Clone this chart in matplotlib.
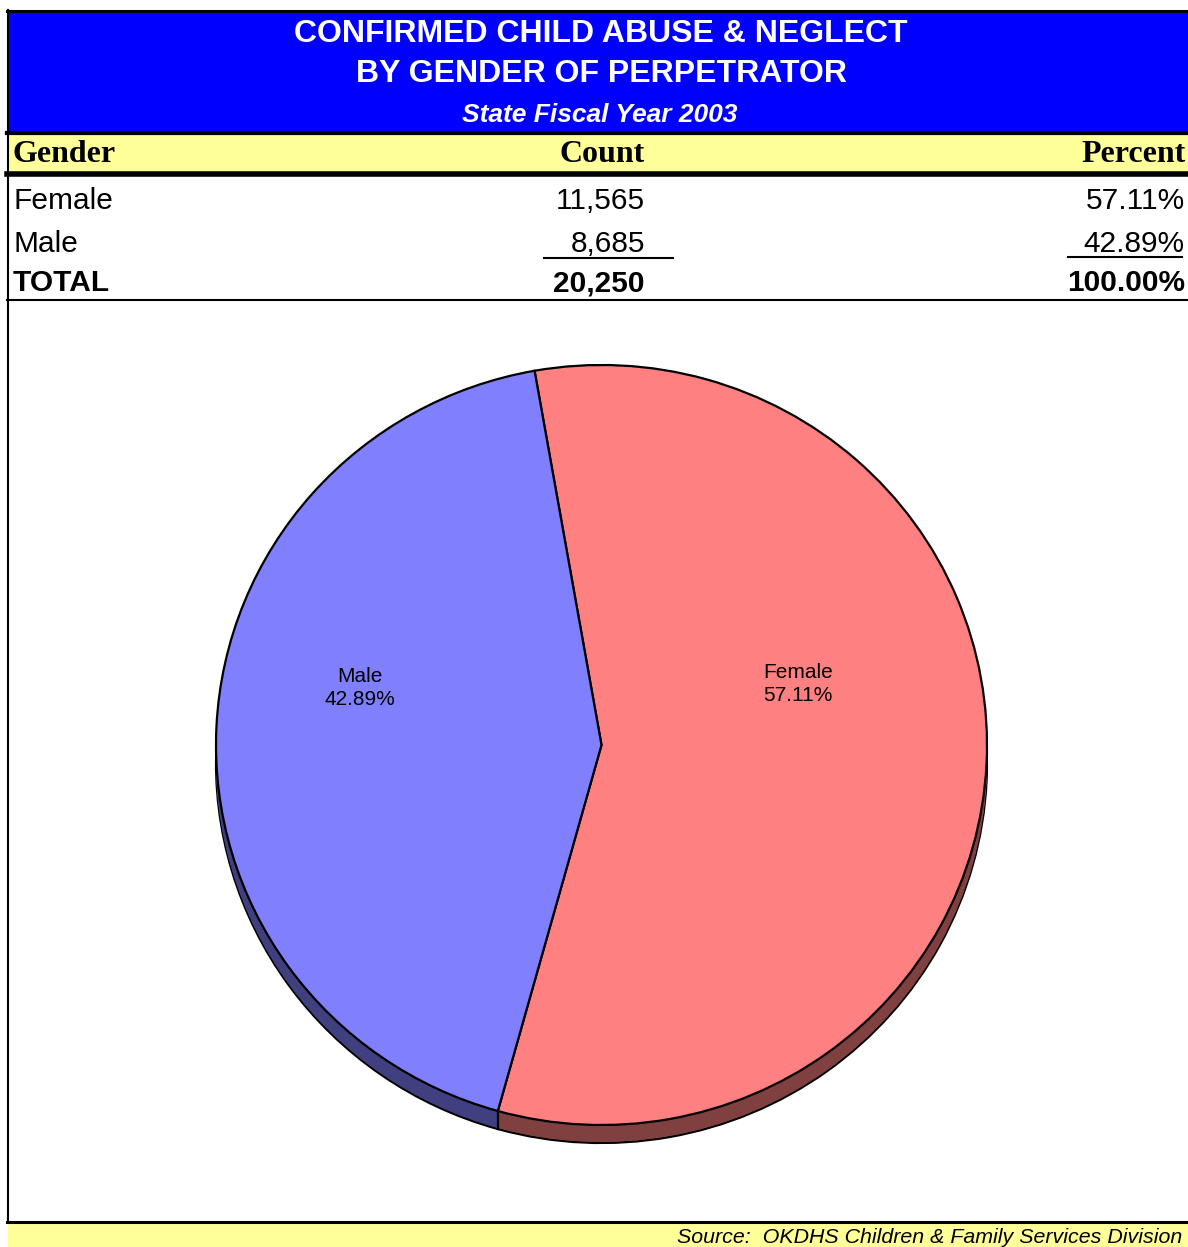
import matplotlib
matplotlib.use("Agg")
from matplotlib import pyplot as plt
from matplotlib.patches import Rectangle
from matplotlib.transforms import Affine2D
import numpy as np

# data
genders = ['Female', 'Male']
counts = [11565, 8685]
percents = [57.11, 42.89]
total_count = 20250
total_pct = 100.00

title1 = 'CONFIRMED CHILD ABUSE & NEGLECT'
title2 = 'BY GENDER OF PERPETRATOR'
subtitle = 'State Fiscal Year 2003'
source = 'Source:  OKDHS Children & Family Services Division'

top_colors = ['#FF8080', '#8080FF']
side_colors = ['#804040', '#404080']
blue = '#0000FF'
yellow = '#FFFF99'

W, H = 1188, 1247
fig = plt.figure(figsize=(W / 100, H / 100), dpi=100)
ax = fig.add_axes([0, 0, 1, 1])


def Y(py):
    # pixel row from top -> data y
    return H - py


# header band
ax.add_patch(Rectangle((8, Y(131)), W - 8, 120, color=blue, lw=0))
ax.add_patch(Rectangle((8, Y(172)), W - 8, 39, color=yellow, lw=0))
ax.add_patch(Rectangle((8, Y(H + 5)), W - 8, H + 5 - 1222, color=yellow, lw=0))

sans = ['Liberation Sans', 'Arial', 'DejaVu Sans']
serif = ['Liberation Serif', 'Times New Roman', 'DejaVu Serif']

ax.text(601, Y(34), title1, ha='center', va='center', color='white',
        fontsize=23, fontweight='bold', family=sans)
ax.text(601, Y(74), title2, ha='center', va='center', color='white',
        fontsize=23, fontweight='bold', family=sans)
ax.text(600, Y(115), subtitle, ha='center', va='center', color='white',
        fontsize=19, fontweight='bold', style='italic', family=sans)

ax.text(13, Y(155), 'Gender', ha='left', va='center', fontsize=23,
        fontweight='bold', family=serif)
ax.text(645, Y(155), 'Count', ha='right', va='center', fontsize=23,
        fontweight='bold', family=serif)
ax.text(1186, Y(155), 'Percent', ha='right', va='center', fontsize=23,
        fontweight='bold', family=serif)

row_y = [201, 244]
for g, c, p, ry in zip(genders, counts, percents, row_y):
    ax.text(13, Y(ry), g, ha='left', va='center', fontsize=21.5, family=sans)
    ax.text(645, Y(ry), f'{c:,}', ha='right', va='center', fontsize=21.5, family=sans)
    ax.text(1185, Y(ry), f'{p:.2f}%', ha='right', va='center', fontsize=21.5, family=sans)
ax.text(13, Y(283), 'TOTAL', ha='left', va='center', fontsize=21.5,
        fontweight='bold', family=sans)
ax.text(645, Y(283), f'{total_count:,}', ha='right', va='center', fontsize=21.5,
        fontweight='bold', family=sans)
ax.text(1185, Y(283), f'{total_pct:.2f}%', ha='right', va='center', fontsize=21.5,
        fontweight='bold', family=sans)

# rules
ax.plot([7, W], [Y(10.5), Y(10.5)], color='black', lw=2.2)
ax.plot([7, W], [Y(132.5), Y(132.5)], color='black', lw=3)
ax.plot([7, W], [Y(174), Y(174)], color='black', lw=4)
ax.plot([544, 673], [Y(258), Y(258)], color='black', lw=1.5)
ax.plot([1068, 1182], [Y(257), Y(257)], color='black', lw=1.5)
ax.plot([7, W], [Y(299.5), Y(299.5)], color='black', lw=1.5)
ax.plot([7, W], [Y(1222), Y(1222)], color='black', lw=2.2)
ax.plot([7.5, 7.5], [Y(10), Y(1222)], color='black', lw=1.5)

ax.text(1182, Y(1228), source, ha='right', va='top', fontsize=15.4,
        style='italic', family=sans)

# pie with a thin 3D edge, slightly flattened
cx, cy, R = 601.5, Y(745), 385.5
squash = 380 / 385.5
depth = 18
start = 100
flat = Affine2D().translate(-cx, -cy).scale(1, squash).translate(cx, cy) + ax.transData


def draw_pie(colors, dy, edge):
    wedges, _ = ax.pie(counts, colors=colors, startangle=start, counterclock=False,
                       center=(cx, cy - dy / squash), radius=R, frame=True,
                       wedgeprops=dict(edgecolor='black' if edge else 'none',
                                       linewidth=1.6 if edge else 0))
    for w in wedges:
        w.set_transform(flat)


draw_pie(side_colors, depth, True)
for d in np.arange(depth - 1, 0, -1):
    draw_pie(side_colors, d, False)
draw_pie(top_colors, 0, True)

# vertical edge where the two slices meet on the side
frac = counts[0] / sum(counts)
ang = np.deg2rad(start - 360 * frac)
bx, by = cx + R * np.cos(ang), cy + R * squash * np.sin(ang)
ax.plot([bx, bx], [by, by - depth], color='black', lw=1.6)

ax.text(798, Y(684), f'{genders[0]}\n{percents[0]:.2f}%', ha='center', va='center',
        fontsize=15, family=sans, linespacing=1.3)
ax.text(360, Y(688), f'{genders[1]}\n{percents[1]:.2f}%', ha='center', va='center',
        fontsize=15, family=sans, linespacing=1.3)

ax.set_xlim(0, W)
ax.set_ylim(0, H)
ax.set_aspect('auto')
ax.axis('off')

fig.savefig('out.png', dpi=100)
